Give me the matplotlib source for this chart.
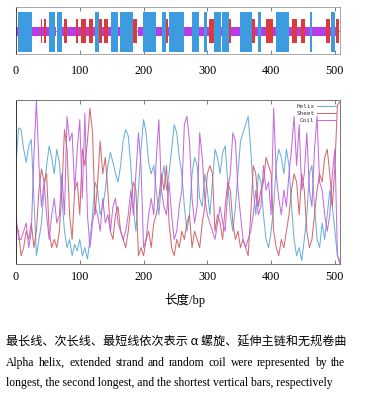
import numpy as np
import matplotlib
matplotlib.use("Agg")
import matplotlib.pyplot as plt

# ---------------- data ----------------
# secondary-structure segments (start bp, end bp)
helix_segments = [(3, 25), (53, 61), (65, 72), (125, 129), (149, 160), (164, 183),
                  (200, 219), (230, 234), (241, 263), (277, 287), (296, 299),
                  (310, 321), (324, 333), (352, 369), (380, 384), (408, 428),
                  (461, 464), (495, 499)]
sheet_segments = [(39, 41), (45, 47), (75, 79), (94, 96), (103, 110), (115, 121),
                  (130, 134), (138, 144), (184, 190), (236, 238), (303, 310),
                  (335, 337), (370, 375), (393, 402), (434, 440), (448, 452),
                  (486, 492), (502, 506)]
seq_length = 507

# prediction curves sampled every 4 bp
step_bp = 4
helix = [0.60, 0.83, 0.82, 0.70, 0.62, 0.72, 0.76, 0.40, 0.05, 0.15, 0.25, 0.45, 0.60,
         0.72, 0.65, 0.55, 0.70, 0.62, 0.40, 0.20, 0.10, 0.15, 0.05, 0.12, 0.08, 0.15,
         0.05, 0.10, 0.03, 0.15, 0.30, 0.50, 0.45, 0.30, 0.35, 0.45, 0.60, 0.68, 0.62,
         0.55, 0.50, 0.60, 0.75, 0.82, 0.78, 0.60, 0.35, 0.20, 0.45, 0.70, 0.88, 0.80,
         0.62, 0.55, 0.60, 0.45, 0.30, 0.50, 0.60, 0.45, 0.55, 0.70, 0.85, 0.80, 0.65,
         0.55, 0.35, 0.20, 0.30, 0.55, 0.65, 0.60, 0.40, 0.35, 0.55, 0.45, 0.30, 0.50,
         0.70, 0.65, 0.55, 0.68, 0.72, 0.50, 0.30, 0.20, 0.35, 0.55, 0.75, 0.80, 0.85,
         0.90, 0.70, 0.45, 0.30, 0.55, 0.50, 0.30, 0.15, 0.10, 0.20, 0.35, 0.60, 0.70,
         0.65, 0.55, 0.70, 0.60, 0.35, 0.15, 0.05, 0.10, 0.02, 0.15, 0.30, 0.55, 0.60,
         0.35, 0.15, 0.10, 0.25, 0.15, 0.30, 0.45, 0.35, 0.20, 0.05, 0.02]
sheet = [0.25, 0.20, 0.05, 0.10, 0.20, 0.15, 0.25, 0.10, 0.20, 0.45, 0.58, 0.50, 0.55,
         0.20, 0.10, 0.15, 0.10, 0.20, 0.45, 0.82, 0.70, 0.30, 0.15, 0.45, 0.50, 0.30,
         0.70, 0.60, 0.75, 0.95, 0.80, 0.30, 0.50, 0.75, 0.55, 0.65, 0.45, 0.20, 0.15,
         0.30, 0.35, 0.20, 0.15, 0.10, 0.20, 0.35, 0.50, 0.45, 0.05, 0.10, 0.05, 0.15,
         0.20, 0.10, 0.25, 0.30, 0.40, 0.55, 0.45, 0.60, 0.25, 0.10, 0.05, 0.15, 0.10,
         0.20, 0.15, 0.25, 0.30, 0.10, 0.20, 0.15, 0.10, 0.25, 0.35, 0.55, 0.60, 0.55,
         0.20, 0.30, 0.25, 0.15, 0.35, 0.50, 0.45, 0.25, 0.15, 0.20, 0.10, 0.15, 0.10,
         0.05, 0.30, 0.60, 0.55, 0.35, 0.45, 0.50, 0.65, 0.60, 0.55, 0.20, 0.10, 0.05,
         0.15, 0.10, 0.20, 0.30, 0.45, 0.55, 0.50, 0.30, 0.55, 0.45, 0.20, 0.10, 0.15,
         0.30, 0.45, 0.55, 0.50, 0.65, 0.70, 0.55, 0.35, 0.60, 0.97, 0.99]
coil = [0.30, 0.15, 0.15, 0.20, 0.25, 0.10, 0.20, 0.65, 1.00, 0.60, 0.35, 0.50, 0.30,
        0.15, 0.30, 0.40, 0.25, 0.30, 0.55, 0.30, 0.90, 0.75, 0.80, 0.45, 0.70, 0.88,
        0.40, 0.92, 0.30, 0.10, 0.25, 0.35, 0.30, 0.20, 0.40, 0.25, 0.30, 0.20, 0.35,
        0.40, 0.25, 0.20, 0.15, 0.20, 0.30, 0.45, 0.30, 0.55, 0.80, 0.60, 0.10, 0.15,
        0.30, 0.40, 0.30, 0.65, 0.88, 0.45, 0.35, 0.30, 0.50, 0.30, 0.15, 0.20, 0.35,
        0.45, 0.85, 0.90, 0.75, 0.40, 0.25, 0.35, 0.80, 0.65, 0.40, 0.30, 0.25, 0.20,
        0.15, 0.25, 0.35, 0.25, 0.20, 0.45, 0.55, 0.80, 0.75, 0.45, 0.30, 0.15, 0.10,
        0.15, 0.20, 0.30, 0.45, 0.30, 0.35, 0.60, 0.45, 0.50, 0.30, 0.95, 0.55, 0.40,
        0.30, 0.45, 0.35, 0.55, 0.70, 0.90, 0.60, 0.85, 0.45, 0.55, 0.80, 0.45, 0.35,
        0.70, 0.90, 0.50, 0.45, 0.30, 0.20, 0.30, 0.55, 0.70, 0.05, 0.00]

tick_values = [0, 100, 200, 300, 400, 500]
series_names = ["Helix", "Sheet", "Coil"]
xlabel_text = "长度/bp"
caption_cn = "最长线、次长线、最短线依次表示 α 螺旋、延伸主链和无规卷曲"
caption_en1 = "Alpha helix, extended strand and random coil were represented by the"
caption_en2 = "longest, the second longest, and the shortest vertical bars, respectively"

# ---------------- styles ----------------
C_HELIX_BAR = "#3d9be0"
C_SHEET_BAR = "#dd3a3f"
C_COIL_BAR = "#b73be6"
C_HELIX = "#5aa8d8"
C_SHEET = "#d25a60"
C_COIL = "#bd5ddc"
TICK_FONT = "Liberation Serif"
CJK = "Noto Sans CJK SC"

W, H = 371, 396
fig = plt.figure(figsize=(W / 100, H / 100), dpi=100)
fig.patch.set_facecolor("white")


def fig_rect(x0, y0, x1, y1):
    return [x0 / W, 1 - y1 / H, (x1 - x0) / W, (y1 - y0) / H]


XMAX = 508

# ---------------- top: structure bars ----------------
ax1 = fig.add_axes(fig_rect(16, 7, 340, 54))
state = {}
for s, e in helix_segments:
    for p in range(s, e + 1):
        state[p] = "H"
for s, e in sheet_segments:
    for p in range(s, e + 1):
        state[p] = "E"
pos_h = [p for p in range(seq_length) if state.get(p) == "H"]
pos_e = [p for p in range(seq_length) if state.get(p) == "E"]
pos_c = [p for p in range(seq_length) if state.get(p) is None]

ax1.axhline(0.48, color=C_COIL_BAR, lw=0.6, zorder=1)
ax1.bar(pos_c, 0.19, bottom=0.39, width=1.0, color=C_COIL_BAR, linewidth=0, zorder=2)
ax1.bar(pos_e, 0.51, bottom=0.23, width=1.0, color=C_SHEET_BAR, linewidth=0, zorder=3)
ax1.bar(pos_h, 0.86, bottom=0.04, width=1.0, color=C_HELIX_BAR, linewidth=0, zorder=4)
ax1.set_xlim(0, XMAX)
ax1.set_ylim(0, 1)
ax1.set_yticks([])
ax1.set_xticks(tick_values)
ax1.set_xticklabels([str(t) for t in tick_values], fontfamily=TICK_FONT, fontsize=8.7)
ax1.tick_params(axis="x", direction="in", length=3, width=0.6, color="#666666",
                top=True, pad=8)
for sp in ax1.spines.values():
    sp.set_color("#999999")
    sp.set_linewidth(0.6)
ax1.spines["left"].set_color("#333333")

# ---------------- bottom: prediction curves ----------------
ax2 = fig.add_axes(fig_rect(16, 100, 340, 264))
for vals, col, name in [(helix, C_HELIX, series_names[0]),
                        (sheet, C_SHEET, series_names[1]),
                        (coil, C_COIL, series_names[2])]:
    xs = np.arange(len(vals)) * step_bp
    ax2.plot(xs, vals, color=col, lw=0.75, alpha=0.9, label=name)
ax2.set_xlim(0, XMAX)
ax2.set_ylim(0, 1.0)
ax2.set_yticks([])
ax2.set_xticks(tick_values)
ax2.set_xticklabels([str(t) for t in tick_values], fontfamily=TICK_FONT, fontsize=8.7)
ax2.tick_params(axis="x", direction="in", length=3, width=0.6, color="#666666",
                top=True, pad=5)
for sp in ax2.spines.values():
    sp.set_color("#777777")
    sp.set_linewidth(0.7)
ax2.spines["left"].set_color("#333333")
leg = ax2.legend(loc="upper right", bbox_to_anchor=(1.0, 1.0), frameon=False,
                 markerfirst=False, handlelength=3.2, labelspacing=0.25,
                 borderaxespad=0.3, handletextpad=0.4,
                 prop={"family": "DejaVu Sans Mono", "size": 4.3})
for t in leg.get_texts():
    t.set_color("#333333")

fig.text(185 / W, 1 - 300 / H, xlabel_text, ha="center", va="center", fontsize=9,
         family=[TICK_FONT, CJK])

# ---------------- caption ----------------
fig.text(6 / W, 1 - 342 / H, caption_cn, ha="left", va="center", fontsize=8.7,
         family=[CJK, TICK_FONT])

renderer = fig.canvas.get_renderer()


def justified(text, y_px, x0_px, x1_px, size):
    words = text.split(" ")
    objs = [fig.text(0, 1 - y_px / H, w, ha="left", va="center", fontsize=size,
                     family=TICK_FONT) for w in words]
    widths = [o.get_window_extent(renderer).width for o in objs]
    gap = ((x1_px - x0_px) - sum(widths)) / (len(words) - 1)
    x = x0_px
    for o, w in zip(objs, widths):
        o.set_x(x / W)
        x += w + gap


justified(caption_en1, 363, 6, 345, 8.4)
fig.text(6 / W, 1 - 383 / H, caption_en2, ha="left", va="center", fontsize=8.4,
         family=TICK_FONT)

fig.savefig("out.png", dpi=100, facecolor="white")
